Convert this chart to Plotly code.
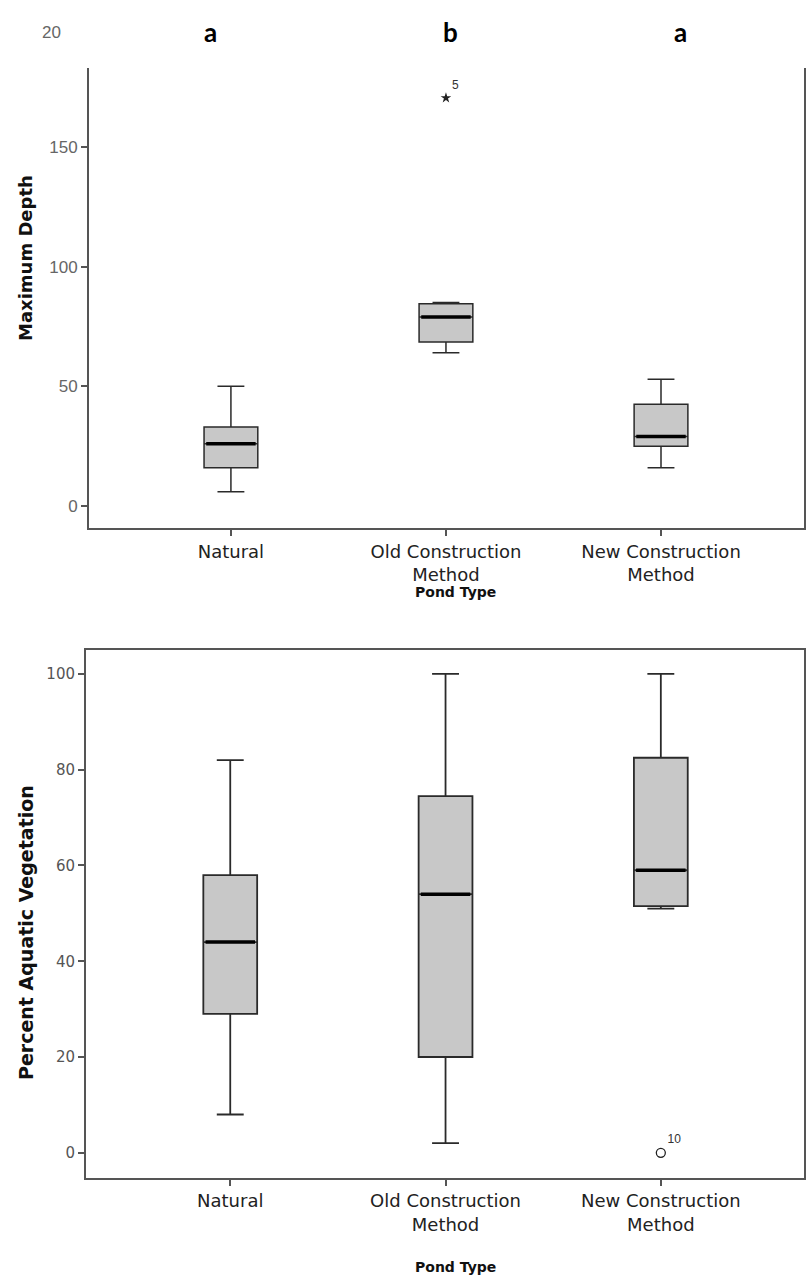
import plotly.graph_objects as go

categories = ["Natural", "Old Construction<br>Method", "New Construction<br>Method"]

# Top panel: Maximum Depth
depth_low = [6, 64, 16]
depth_q1 = [16, 68.5, 25]
depth_median = [26, 79, 29]
depth_q3 = [33, 84.5, 42.5]
depth_high = [50, 85, 53]
depth_outlier_x = [1]
depth_outlier_y = [170.5]
depth_outlier_label = ["5"]
depth_letters = ["a", "b", "a"]

# Bottom panel: Percent Aquatic Vegetation
veg_low = [8, 2, 51]
veg_q1 = [29, 20, 51.5]
veg_median = [44, 54, 59]
veg_q3 = [58, 74.5, 82.5]
veg_high = [82, 100, 100]
veg_outlier_x = [2]
veg_outlier_y = [0]
veg_outlier_label = ["10"]

W, H = 806, 1279
BOXW = 0.25
pos = list(range(len(categories)))

def py(px):
    return 1 - px / H

def px_x(px):
    return px / W

fig = go.Figure()

def add_panel(fig, xa, ya, low, q1, med, q3, high, ox, oy, olab, osym, lw_whisk):
    fig.add_trace(go.Box(
        x=pos, q1=q1, median=med, q3=q3, lowerfence=low, upperfence=high,
        width=BOXW, whiskerwidth=0.5, fillcolor="#c8c8c8",
        line=dict(color="#2a2a2a", width=lw_whisk), boxpoints=False,
        xaxis=xa, yaxis=ya, showlegend=False, hoverinfo="skip"))
    mx, my = [], []
    for i, m in zip(pos, med):
        mx += [i - BOXW / 2 + 0.01, i + BOXW / 2 - 0.01, None]
        my += [m, m, None]
    fig.add_trace(go.Scatter(x=mx, y=my, mode="lines", line=dict(color="black", width=3.5),
                             xaxis=xa, yaxis=ya, showlegend=False, hoverinfo="skip"))
    fig.add_trace(go.Scatter(x=ox, y=oy, mode="markers+text", text=olab,
                             textposition="top right",
                             textfont=dict(family="Liberation Sans", size=12, color="#333"),
                             marker=osym, xaxis=xa, yaxis=ya, showlegend=False, hoverinfo="skip"))

add_panel(fig, "x", "y", depth_low, depth_q1, depth_median, depth_q3, depth_high,
          depth_outlier_x, depth_outlier_y, depth_outlier_label,
          dict(symbol="star", size=8, color="#222"), 1.5)
add_panel(fig, "x2", "y2", veg_low, veg_q1, veg_median, veg_q3, veg_high,
          veg_outlier_x, veg_outlier_y, veg_outlier_label,
          dict(symbol="circle-open", size=9, color="#222", line=dict(width=1.3)), 1.8)

axis_common = dict(showgrid=False, zeroline=False, showline=True, linecolor="#555", linewidth=2,
                   ticks="outside", tickcolor="#555", tickwidth=1.5, ticklen=6)

cat_font = dict(family="DejaVu Sans", size=18, color="#222")

fig.update_layout(
    width=W, height=H, margin=dict(l=0, r=0, t=0, b=0),
    paper_bgcolor="white", plot_bgcolor="white",
    xaxis=dict(domain=[px_x(89), px_x(804)], range=[-0.66, 2.665], anchor="y",
               tickvals=pos, ticktext=categories, mirror=False,
               tickfont=cat_font, **axis_common),
    yaxis=dict(domain=[py(528.3), py(68)], range=[-9.3, 183], anchor="x",
               tickvals=[0, 50, 100, 150], mirror=True,
               tickfont=dict(family="Liberation Sans", size=17, color="#666"), **axis_common),
    xaxis2=dict(domain=[px_x(86), px_x(804)], range=[-0.67, 2.665], anchor="y2",
                tickvals=pos, ticktext=categories, mirror=True,
                tickfont=cat_font, **axis_common),
    yaxis2=dict(domain=[py(1177.7), py(649.5)], range=[-5.2, 105.1], anchor="x2",
                tickvals=[0, 20, 40, 60, 80, 100], mirror=True,
                tickfont=dict(family="DejaVu Sans", size=15, color="#555"), **axis_common),
)

ann = []
def add_ann(x, y, text, font, angle=0):
    ann.append(dict(x=px_x(x), y=py(y), xref="paper", yref="paper", text=text,
                    showarrow=False, xanchor="center", yanchor="middle",
                    textangle=angle, font=font))

# letters above top panel
for lx, lt in zip([210, 450, 680], depth_letters):
    add_ann(lx, 32, "<b>%s</b>" % lt, dict(family="Lato", size=26, color="black"))
add_ann(51, 32, "20", dict(family="Liberation Sans", size=17, color="#666"))
add_ann(25, 258, "<b>Maximum Depth</b>", dict(family="DejaVu Sans", size=18, color="#111"), -90)
add_ann(455, 592, "<b>Pond Type</b>", dict(family="DejaVu Sans", size=14, color="#111"))
add_ann(26, 933, "<b>Percent Aquatic Vegetation</b>", dict(family="DejaVu Sans", size=19, color="#111"), -90)
add_ann(455, 1267, "<b>Pond Type</b>", dict(family="DejaVu Sans", size=14, color="#111"))
fig.update_layout(annotations=ann)

fig.write_html("out.html")
